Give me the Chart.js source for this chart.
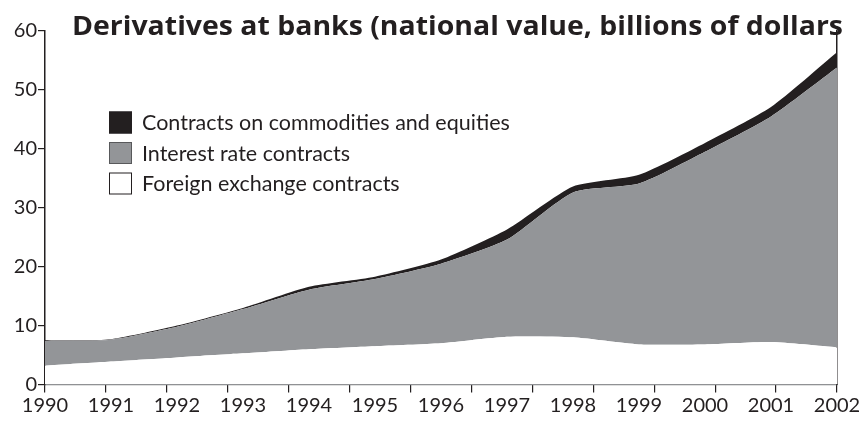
<!DOCTYPE html>
<html>
<head>
<meta charset="utf-8">
<script src="https://cdn.jsdelivr.net/npm/chart.js@4.4.1/dist/chart.umd.min.js"></script>
<style>
  html, body { margin: 0; padding: 0; background: #fff; }
  #wrap { width: 859px; height: 423px; }
</style>
</head>
<body>
<div id="wrap"><canvas id="chart" width="859" height="423"></canvas></div>
<script>
(function () {
  "use strict";

  // ── data (billions of dollars) ────────────────────────────
  const years = [1990, 1991, 1992, 1993, 1994, 1995, 1996, 1997, 1998, 1999, 2000, 2001, 2002];
  const foreignExchange = [3.2, 3.9, 4.6, 5.3, 6.0, 6.5, 7.0, 8.1, 8.0, 6.8, 6.8, 7.2, 6.3];
  const interestRate = [4.2, 3.7, 5.2, 7.5, 10.1, 11.4, 13.5, 16.5, 24.6, 27.3, 32.7, 38.3, 47.5];
  const commodities = [0.1, 0.1, 0.2, 0.2, 0.5, 0.4, 0.7, 1.7, 1.0, 1.5, 1.5, 1.6, 2.6];
  const yTicks = [0, 10, 20, 30, 40, 50, 60];
  const tickMarkCount = 14; // the source axis has 14 evenly spaced tick marks

  const TITLE = "Derivatives at banks (national value, billions of dollars";
  const INK = "#231f20";
  const GRAY = "#939598";
  const FONT = "Lato, 'Open Sans', sans-serif";

  const pts = (arr) => arr.map((v, i) => ({ x: years[i], y: v }));

  // ── title + legend drawn on the canvas ─────────────────
  // title is squeezed to the width it takes in the source (72 → 843 px)
  const titlePlugin = {
    id: "titleText",
    afterDraw(chart) {
      const ctx = chart.ctx;
      const left = 72, right = 843;
      ctx.save();
      ctx.font = "bold 27px 'Open Sans', Lato, sans-serif";
      ctx.fillStyle = INK;
      ctx.textAlign = "left";
      ctx.textBaseline = "alphabetic";
      const w = ctx.measureText(TITLE).width;
      ctx.translate(left, 35);
      ctx.scale((right - left) / w, 1);
      ctx.fillText(TITLE, 0, 0);
      ctx.restore();
    },
  };

  const legendPlugin = {
    id: "boxLegend",
    afterDraw(chart) {
      const ctx = chart.ctx;
      const items = chart.data.datasets.slice().reverse();
      ctx.save();
      ctx.font = "21.5px " + FONT;
      ctx.textBaseline = "middle";
      items.forEach((ds, i) => {
        const y = 122.5 + i * 30.5;
        ctx.fillStyle = ds.backgroundColor;
        ctx.fillRect(109, y - 11, 23, 22);
        ctx.strokeStyle = i === 1 ? "#58595b" : INK;
        ctx.lineWidth = 1;
        ctx.strokeRect(109.5, y - 10.5, 22, 21);
        ctx.fillStyle = INK;
        ctx.fillText(ds.label, 142, y + 1);
      });
      ctx.restore();
    },
  };

  const noPad = (s) => { s.paddingLeft = 0; s.paddingRight = 0; s.paddingTop = 0; s.paddingBottom = 0; };

  new Chart(document.getElementById("chart"), {
    type: "line",
    data: {
      datasets: [
        {
          label: "Foreign exchange contracts",
          data: pts(foreignExchange),
          backgroundColor: "#ffffff",
          fill: "origin",
        },
        {
          label: "Interest rate contracts",
          data: pts(interestRate),
          backgroundColor: GRAY,
          fill: "-1",
        },
        {
          label: "Contracts on commodities and equities",
          data: pts(commodities),
          backgroundColor: INK,
          fill: "-1",
        },
      ],
    },
    options: {
      responsive: false,
      animation: false,
      devicePixelRatio: 1,
      layout: { padding: { top: 31, right: 22, left: 0, bottom: 0 } },
      elements: {
        line: { borderWidth: 0, tension: 0.2 },
        point: { radius: 0 },
      },
      plugins: {
        legend: { display: false },
        tooltip: { enabled: false },
      },
      scales: {
        x: {
          type: "linear",
          min: years[0],
          max: years[years.length - 1],
          position: "bottom",
          weight: 1,
          grid: { display: false },
          border: { color: "#808285", width: 1.2 },
          ticks: {
            stepSize: 1,
            maxRotation: 0,
            autoSkip: false,
            padding: 1,
            color: INK,
            font: { family: FONT, size: 20 },
            callback: (v) => String(v),
          },
          afterFit: (s) => { s.height = 38.5; noPad(s); },
        },
        marks: {
          type: "linear",
          min: 0,
          max: tickMarkCount - 1,
          position: "bottom",
          weight: 0,
          ticks: { display: false, stepSize: 1 },
          grid: { drawOnChartArea: false, drawTicks: true, tickLength: 8, color: INK, lineWidth: 1.2 },
          border: { display: false },
          afterFit: (s) => { s.height = 0; noPad(s); },
        },
        y: {
          stacked: true,
          min: 0,
          max: yTicks[yTicks.length - 1],
          afterBuildTicks: (s) => { s.ticks = yTicks.map((v) => ({ value: v })); },
          grid: { drawOnChartArea: false, drawTicks: true, tickLength: 7, color: INK, lineWidth: 1.2 },
          border: { color: INK, width: 1.5 },
          ticks: {
            padding: 1,
            color: INK,
            font: { family: FONT, size: 20 },
          },
          afterFit: (s) => { s.width = 45; noPad(s); },
        },
        yRight: {
          position: "right",
          min: 0,
          max: 60,
          ticks: { display: false },
          grid: { display: false },
          border: { color: INK, width: 1.5 },
          afterFit: (s) => { s.width = 0; noPad(s); },
        },
      },
    },
    plugins: [titlePlugin, legendPlugin],
  });
})();
</script>
</body>
</html>
